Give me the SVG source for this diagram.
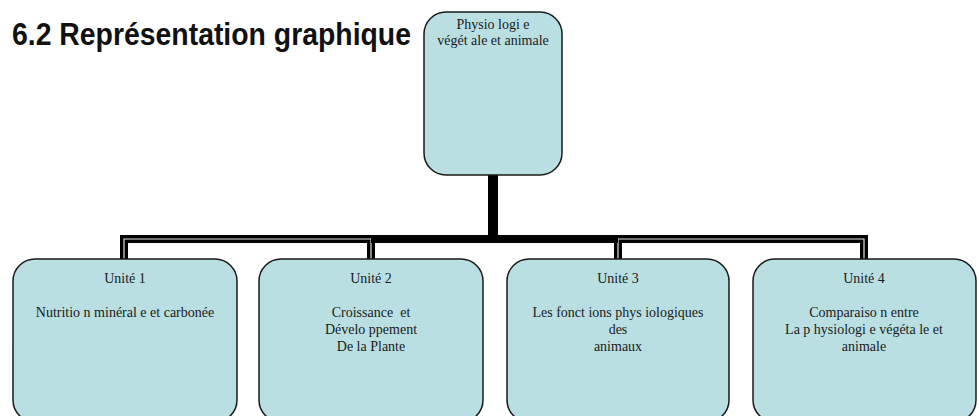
<svg xmlns="http://www.w3.org/2000/svg" width="979" height="416" viewBox="0 0 979 416">
<style>
.box{fill:#b9dfe3;stroke:#1a1a1a;stroke-width:1.5}
.t{font-family:"Liberation Serif","Times New Roman",serif;font-size:14px;fill:#1a1a1a;text-anchor:middle}
.title{font-family:"Liberation Sans Narrow","Liberation Sans",Arial,sans-serif;font-size:31px;font-weight:bold;fill:#111}
.blk{fill:none;stroke:#000;stroke-width:8}
.core{fill:none;stroke:#e0e0e0;stroke-width:1.2}
</style>
<rect width="979" height="416" fill="#fff"/>
<text class="title" x="12" y="45" textLength="399" lengthAdjust="spacingAndGlyphs">6.2  Représentation graphique</text>
<g id="connectors">
<path class="blk" d="M493,239 H124 V259"/>
<path class="blk" d="M493,239 H371 V259"/>
<path class="blk" d="M493,239 H618 V259"/>
<path class="blk" d="M493,239 H864 V259"/>
<path class="core" d="M371,239 H124 V259"/>
<path class="core" d="M371,239 V259"/>
<path class="core" d="M618,239 H864 V259"/>
<path class="core" d="M618,239 V259"/>
<path class="blk" d="M371,239 H618"/>
<path fill="none" stroke="#000" stroke-width="10" d="M493,175 V243"/>
</g>
<g id="root">
<rect class="box" x="424" y="12" width="138" height="163" rx="22"/>
<text class="t" x="493" y="29">Physio logi e</text>
<text class="t" x="493" y="45">végét ale et animale</text>
</g>
<g id="unit1">
<rect class="box" x="13" y="259" width="224" height="163" rx="22"/>
<text class="t" x="125" y="283">Unité 1</text>
<text class="t" x="125" y="317">Nutritio n minéral e et carbonée</text>
</g>
<g id="unit2">
<rect class="box" x="259" y="259" width="224" height="163" rx="22"/>
<text class="t" x="371" y="283">Unité 2</text>
<text class="t" x="371" y="317" xml:space="preserve">Croissance  et</text>
<text class="t" x="371" y="334">Dévelo ppement</text>
<text class="t" x="371" y="351">De la Plante</text>
</g>
<g id="unit3">
<rect class="box" x="507" y="259" width="222" height="163" rx="22"/>
<text class="t" x="618" y="283">Unité 3</text>
<text class="t" x="618" y="317">Les fonct ions phys iologiques</text>
<text class="t" x="618" y="334">des</text>
<text class="t" x="618" y="351">animaux</text>
</g>
<g id="unit4">
<rect class="box" x="753" y="259" width="223" height="163" rx="22"/>
<text class="t" x="864" y="283">Unité 4</text>
<text class="t" x="864" y="317">Comparaiso n entre</text>
<text class="t" x="864" y="334">La p hysiologi e végéta le et</text>
<text class="t" x="864" y="351">animale</text>
</g>
</svg>
